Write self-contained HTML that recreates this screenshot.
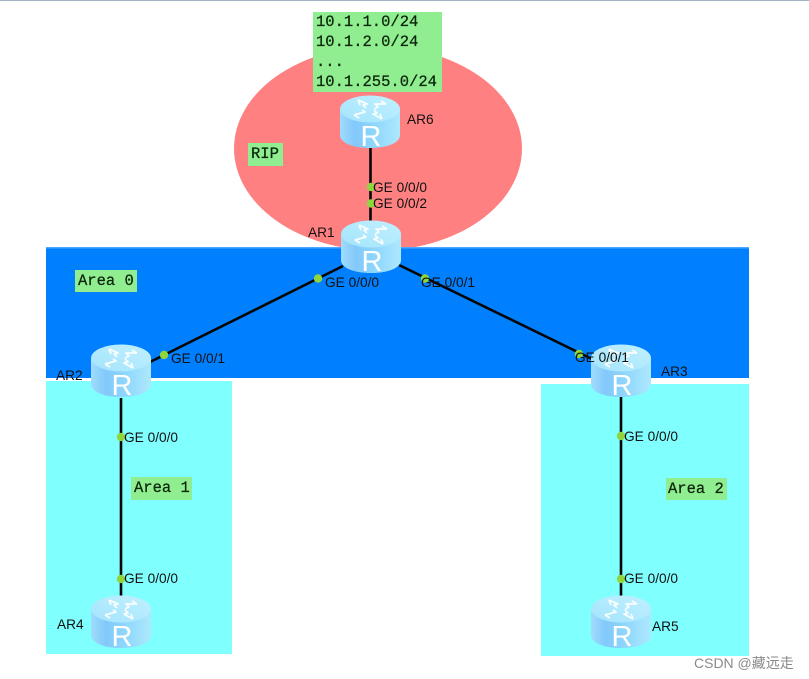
<!DOCTYPE html>
<html><head><meta charset="utf-8">
<style>
html,body{margin:0;padding:0;background:#fff;width:809px;height:679px;overflow:hidden}
svg{display:block;filter:blur(.35px)}
.m{font-family:"Liberation Mono",monospace;font-size:15.5px;fill:#0c260c;stroke:#0c260c;stroke-width:.25px}
.l{font-family:"Liberation Sans",sans-serif;font-size:13.7px;fill:#111}
.r{font-family:"Liberation Sans",sans-serif;font-size:29px;fill:#fff;text-anchor:middle}
</style></head><body>
<svg width="809" height="679" viewBox="0 0 809 679" xmlns="http://www.w3.org/2000/svg">
<defs>
<linearGradient id="side" x1="0" x2="1" y1="0" y2="0">
<stop offset="0" stop-color="#a0dcfc"/><stop offset=".25" stop-color="#82c8fa"/><stop offset=".6" stop-color="#90d8fd"/><stop offset="1" stop-color="#aee8fd"/>
</linearGradient>
<linearGradient id="topg" x1="0" x2="1" y1="1" y2="0">
<stop offset="0" stop-color="#a4e4fd"/><stop offset="1" stop-color="#c0f0fe"/>
</linearGradient>
<g id="ar">
<path d="M0 13 V39 C0 47 13 52 30 52 C47 52 60 47 60 39 V13 Z" fill="url(#side)"/>
<ellipse cx="30" cy="13" rx="30" ry="13.500" fill="url(#topg)"/>
<g fill="none" stroke="#fff" stroke-width="1.800" stroke-linejoin="round" opacity=".92">
<path d="M18 4 L27 8 L23 9 L26 12"/><path d="M18 4 L20 9"/>
<path d="M46 8 L35 8 L38 11 L34 13"/><path d="M46 8 L41 5"/>
<path d="M14 19 L25 16 L22 14"/><path d="M14 19 L19 22"/>
<path d="M42 23 L33 18 L37 17 L34 14"/><path d="M42 23 L40 18"/>
</g>
</g>
</defs>
<rect width="809" height="1" fill="#a3b4c4"/>
<ellipse cx="378" cy="148.500" rx="144" ry="102" fill="#ff8080"/>
<rect x="46" y="247" width="703" height="131" fill="#0080ff"/>
<rect x="46" y="247" width="703" height="1.500" fill="#4da6ff"/>
<rect x="46" y="381" width="186" height="273" fill="#80ffff"/>
<rect x="541" y="384" width="208" height="272" fill="#80ffff"/>

<rect x="313" y="12" width="129" height="80" fill="#90ee90"/>
<text class="m" x="316" y="26">10.1.1.0/24</text>
<text class="m" x="316" y="46">10.1.2.0/24</text>
<text class="m" x="316" y="66">...</text>
<text class="m" x="316" y="86">10.1.255.0/24</text>
<rect x="248" y="143" width="35" height="23" fill="#90ee90"/>
<text class="m" x="251" y="158">RIP</text>
<rect x="75" y="270" width="62" height="22" fill="#90ee90"/>
<text class="m" x="78" y="285">Area 0</text>
<rect x="131" y="477" width="61" height="23" fill="#90ee90"/>
<text class="m" x="134" y="492">Area 1</text>
<rect x="666" y="478" width="61" height="22" fill="#90ee90"/>
<text class="m" x="668" y="493">Area 2</text>

<g stroke="#050505" stroke-width="2.600" fill="none">
<line x1="370.500" y1="148" x2="370.500" y2="222"/>
<line x1="343" y1="266" x2="150" y2="362"/>
<line x1="399" y1="265" x2="592" y2="359"/>
<line x1="121" y1="398" x2="121" y2="597"/>
<line x1="621" y1="397" x2="621" y2="597"/>
</g>

<use href="#ar" x="340" y="96"/>
<use href="#ar" x="341" y="221"/>
<use href="#ar" x="91" y="345"/>
<use href="#ar" x="591" y="345"/>
<use href="#ar" x="91" y="596"/>
<use href="#ar" x="591" y="596"/>
<text class="r" x="371" y="146">R</text>
<text class="r" x="372" y="271">R</text>
<text class="r" x="122" y="395">R</text>
<text class="r" x="622" y="395">R</text>
<text class="r" x="122" y="646">R</text>
<text class="r" x="622" y="646">R</text>

<g fill="#8fd63c">
<circle cx="371" cy="187" r="4.200"/><circle cx="371" cy="203.500" r="4.200"/>
<circle cx="318" cy="278.500" r="4.200"/><circle cx="425" cy="278.500" r="4.200"/>
<circle cx="164" cy="355" r="4.200"/><circle cx="579" cy="354" r="4.200"/>
<circle cx="121" cy="437" r="4.200"/><circle cx="121" cy="579" r="4.200"/>
<circle cx="621" cy="436" r="4.200"/><circle cx="621" cy="579" r="4.200"/>
</g>

<text class="l" x="373" y="192">GE 0/0/0</text>
<text class="l" x="373" y="208">GE 0/0/2</text>
<text class="l" x="325" y="287">GE 0/0/0</text>
<text class="l" x="421" y="287">GE 0/0/1</text>
<text class="l" x="171" y="363">GE 0/0/1</text>
<text class="l" x="575" y="362">GE 0/0/1</text>
<text class="l" x="124" y="442">GE 0/0/0</text>
<text class="l" x="124" y="583">GE 0/0/0</text>
<text class="l" x="624" y="441">GE 0/0/0</text>
<text class="l" x="624" y="583">GE 0/0/0</text>
<text class="l" x="407" y="124">AR6</text>
<text class="l" x="308" y="237">AR1</text>
<text class="l" x="56" y="380">AR2</text>
<text class="l" x="661" y="376">AR3</text>
<text class="l" x="57" y="629">AR4</text>
<text class="l" x="652" y="631">AR5</text>
<text x="694" y="668" style="font-family:'Liberation Sans','Noto Sans CJK SC',sans-serif;font-size:14px;fill:#8a8a8a">CSDN @藏远走</text>
</svg>
</body></html>
